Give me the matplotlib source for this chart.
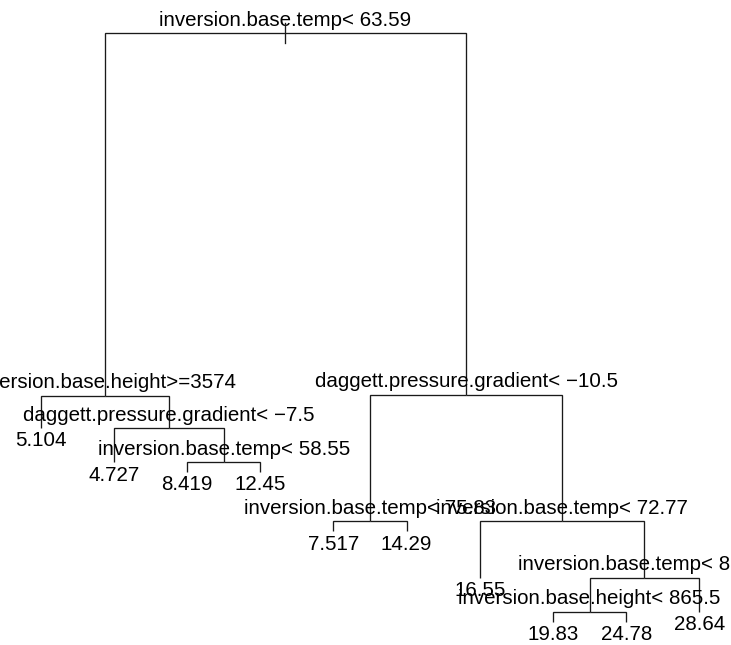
import matplotlib
matplotlib.use("Agg")
import matplotlib.pyplot as plt
import matplotlib.lines as mlines

# Regression tree: node ids follow rpart numbering (children of n are 2n, 2n+1)
split_nodes = [1, 2, 3, 5, 11, 6, 7, 15, 30]
split_labels = [
    "inversion.base.temp< 63.59",
    "inversion.base.height>=3574",
    "daggett.pressure.gradient< \u221210.5",
    "daggett.pressure.gradient< \u22127.5",
    "inversion.base.temp< 58.55",
    "inversion.base.temp< 75.83",
    "inversion.base.temp< 72.77",
    "inversion.base.temp< 81.79",
    "inversion.base.height< 865.5",
]
leaf_nodes = [4, 10, 22, 23, 12, 13, 14, 60, 61, 31]
leaf_values = ["5.104", "4.727", "8.419", "12.45", "7.517", "14.29",
               "16.55", "19.83", "24.78", "28.64"]

# Node heights (deviance scale, root = 1, deepest leaf = 0)
node_ids = [1, 2, 3, 4, 5, 10, 11, 22, 23, 6, 12, 13, 7, 14, 15, 30, 31, 60, 61]
node_heights = [1.0, 0.3841, 0.3861, 0.3297, 0.3287, 0.2709, 0.2706,
                0.2549, 0.2549, 0.1711, 0.1541, 0.1541, 0.1703, 0.0748,
                0.0748, 0.0165, 0.0170, 0.0, 0.0]

height = dict(zip(node_ids, node_heights))

# horizontal positions: leaves 1..n in order, internal nodes at child midpoint
xpos = {n: i + 1 for i, n in enumerate(leaf_nodes)}


def place(n):
    if n in xpos:
        return xpos[n]
    xpos[n] = 0.5 * (place(2 * n) + place(2 * n + 1))
    return xpos[n]


place(1)

fig = plt.figure(figsize=(7.31, 6.45), dpi=100)
ax = fig.add_axes([0, 0, 1, 1])
ax.set_xlim(0.444, 10.433)
ax.set_ylim(-0.0396, 1.0566)
ax.axis("off")

lc = "#1a1a1a"
lw = 0.95
for n in node_ids:
    if n == 1:
        continue
    p = n // 2
    ax.plot([xpos[n], xpos[n], xpos[p]], [height[n], height[p], height[p]],
            color=lc, lw=lw, solid_capstyle="butt", solid_joinstyle="miter")

# root marker: short vertical tick through the root node
x0, y0 = ax.transData.transform((xpos[1], height[1]))
fig.add_artist(mlines.Line2D([x0, x0], [y0 - 10, y0 + 10], color=lc, lw=lw,
                             transform=None))

font = dict(family=["Liberation Sans", "DejaVu Sans"], size=14.75, color="black")
for n, lab in zip(split_nodes, split_labels):
    ax.annotate(lab, xy=(xpos[n], height[n]), xytext=(0, 7.5),
                textcoords="offset pixels", ha="center", va="baseline",
                annotation_clip=False, **font)
for n, lab in zip(leaf_nodes, leaf_values):
    ax.annotate(lab, xy=(xpos[n], height[n]), xytext=(0, -18.5),
                textcoords="offset pixels", ha="center", va="baseline",
                annotation_clip=False, **font)

fig.savefig("out.png", dpi=100, facecolor="white")
